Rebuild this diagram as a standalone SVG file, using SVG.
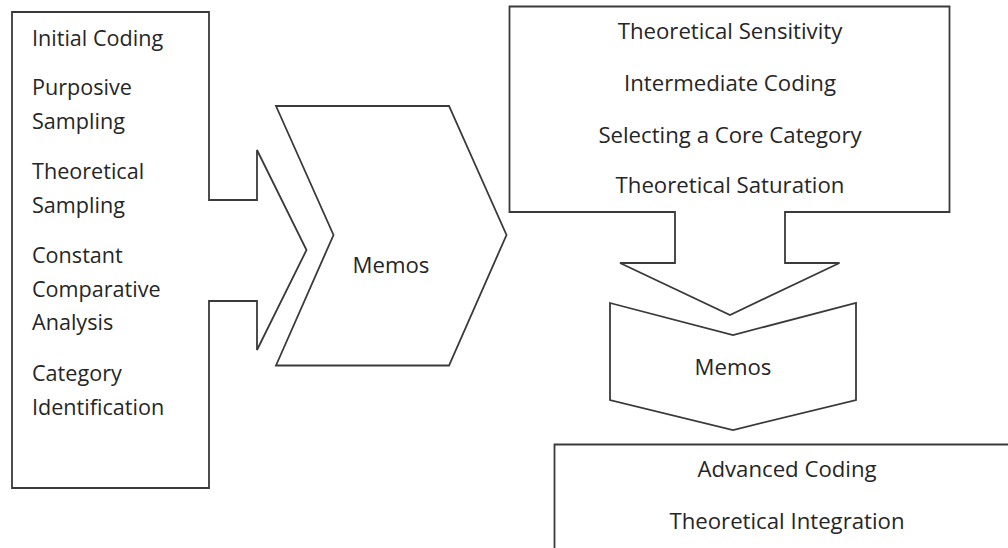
<svg xmlns="http://www.w3.org/2000/svg" width="1008" height="548" viewBox="0 0 1008 548">
<style>
.shape{fill:#ffffff;stroke:#3a3a3a;stroke-width:1.8;stroke-linejoin:miter}
.t{font-family:"Open Sans","Liberation Sans",sans-serif;font-size:21.6px;fill:#262626}
.c{text-anchor:middle;font-size:22.2px}
</style>
<rect width="1008" height="548" fill="#ffffff"/>
<g id="phase1">
<polygon class="shape" points="12,12 209,12 209,200 257,200 257,150 306.5,250 257,350 257,301 209,301 209,488 12,488"/>
<text class="t" x="32" y="46">Initial Coding</text>
<text class="t" x="32" y="95">Purposive</text>
<text class="t" x="32" y="129">Sampling</text>
<text class="t" x="32" y="179">Theoretical</text>
<text class="t" x="32" y="213">Sampling</text>
<text class="t" x="32" y="263">Constant</text>
<text class="t" x="32" y="297">Comparative</text>
<text class="t" x="32" y="330">Analysis</text>
<text class="t" x="32" y="381">Category</text>
<text class="t" x="32" y="415">Identification</text>
</g>
<g id="memos1">
<polygon class="shape" points="276,106 449,106 506.5,235 449,365.5 276,365.5 333.5,235"/>
<text class="t c" x="391" y="273">Memos</text>
</g>
<g id="phase2">
<polygon class="shape" points="509.5,6.5 949.5,6.5 949.5,212 785,212 785,263 839.5,263 730,315 620,263 675,263 675,212 509.5,212"/>
<text class="t c" x="730" y="39">Theoretical Sensitivity</text>
<text class="t c" x="730" y="91">Intermediate Coding</text>
<text class="t c" x="730" y="143">Selecting a Core Category</text>
<text class="t c" x="730" y="193">Theoretical Saturation</text>
</g>
<g id="memos2">
<polygon class="shape" points="610,303 733,335 856,303 856,400 733,430 610,400"/>
<text class="t c" x="733" y="375">Memos</text>
</g>
<g id="phase3">
<polygon class="shape" points="554.5,444.5 1020,444.5 1020,560 554.5,560"/>
<text class="t c" x="787" y="477">Advanced Coding</text>
<text class="t c" x="787" y="529">Theoretical Integration</text>
</g>
<g id="connectors"></g>
</svg>
